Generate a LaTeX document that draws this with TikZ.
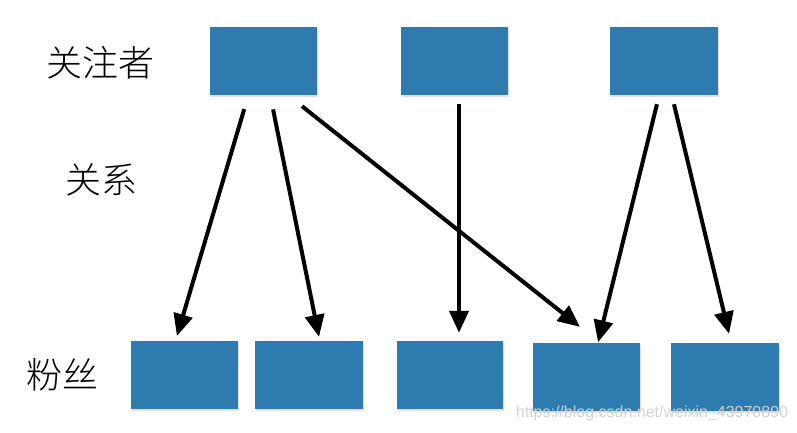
\documentclass[tikz,border=0pt]{standalone}
\usepackage{fontspec}
\setmainfont{Liberation Sans}
\IfFontExistsTF{Noto Sans CJK SC Light}{\newfontfamily\cjk{Noto Sans CJK SC Light}}{\newfontfamily\cjk{Noto Sans CJK SC}}
\usetikzlibrary{arrows.meta,shadows}
\definecolor{boxblue}{RGB}{46,123,176}
\begin{document}
\begin{tikzpicture}[x=1pt,y=-1pt,>={Triangle[length=22pt,width=19pt]},
  box/.style={fill=boxblue,inner sep=0pt,minimum width=107pt,minimum height=68pt,
    drop shadow={shadow xshift=1pt,shadow yshift=-2pt,opacity=0.25}},
  arr/.style={->,line width=4pt},
  lab/.style={font=\cjk\fontsize{36}{36}\selectfont}]
\useasboundingbox (0,0) rectangle (797,432);
% labels
\node[lab] (lguan) at (100.5,62.5) {关注者};
\node[lab] (lrel) at (101,180) {关系};
\node[lab] (lfan) at (62.5,375) {粉丝};
% top row
\node[box] (g1) at (263.5,60.5) {};
\node[box] (g2) at (454.5,60.5) {};
\node[box,minimum width=108pt] (g3) at (664,60.5) {};
% bottom row
\node[box] (f1) at (184.5,375) {};
\node[box,minimum width=108pt] (f2) at (309,375) {};
\node[box,minimum width=106pt] (f3) at (450,375) {};
\node[box] (f4) at (586.5,377) {};
\node[box,minimum width=108pt] (f5) at (725,377) {};
% arrows
\draw[arr,shorten <=15pt,shorten >=5pt] ([xshift=-15pt]g1.south) -- ([xshift=-9pt]f1.north);
\draw[arr,shorten <=15pt,shorten >=4pt] ([xshift=6.6pt]g1.south) -- ([xshift=10.8pt]f2.north);
\draw[arr,shorten <=18.5pt,shorten >=25.7pt] ([xshift=24pt]g1.south) -- ([xshift=13.6pt]f4.north);
\draw[arr,shorten <=9.5pt,shorten >=8pt] ([xshift=4.5pt]g2.south) -- ([xshift=9pt]f3.north);
\draw[arr,shorten <=9.8pt,shorten >=0.5pt] ([xshift=-4.7pt]g3.south) -- ([xshift=11.5pt]f4.north);
\draw[arr,shorten <=9.8pt,shorten >=9.3pt] ([xshift=7.7pt]g3.south) -- ([xshift=6.2pt]f5.north);
\node[text=gray!35,font=\fontsize{16}{16}\selectfont] (wm) at (652,413) {https://blog.csdn.net/weixin\_43970890};
\end{tikzpicture}
\end{document}
